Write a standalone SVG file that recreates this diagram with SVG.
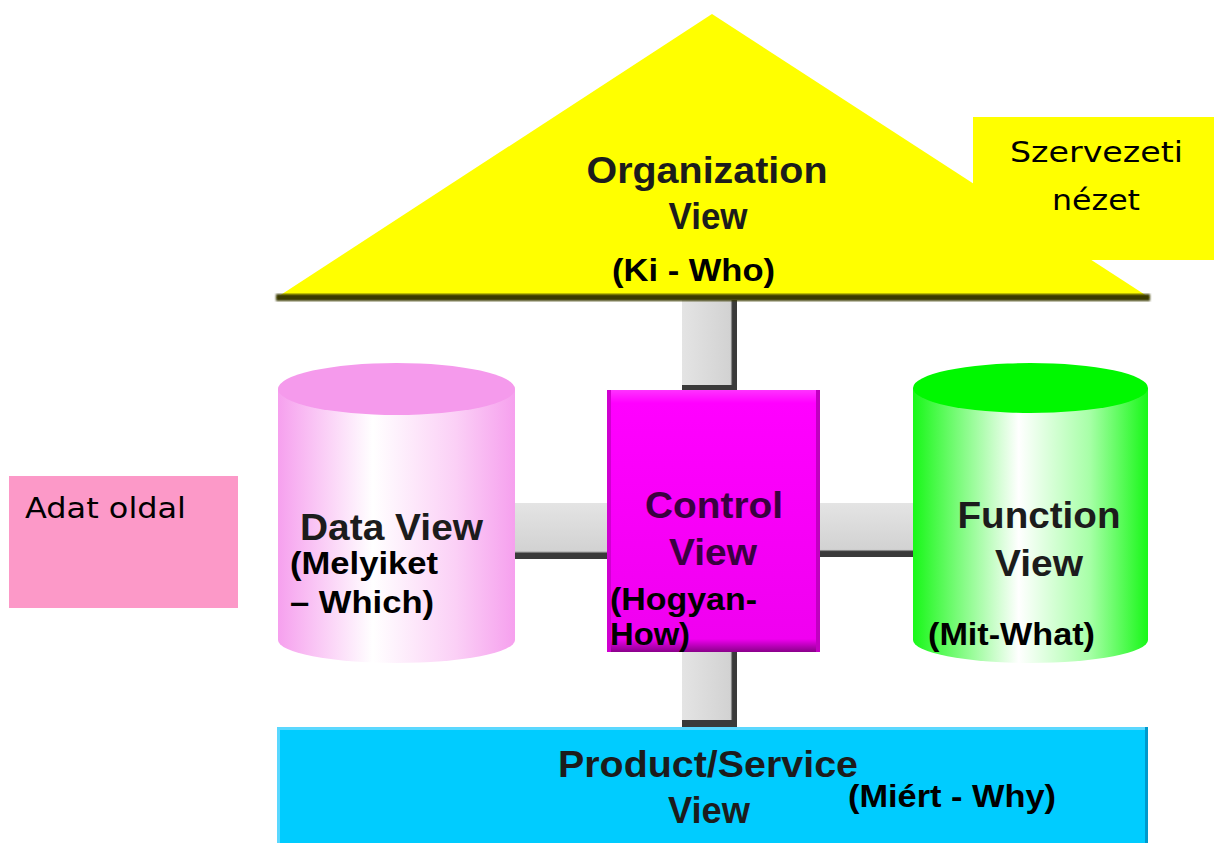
<svg xmlns="http://www.w3.org/2000/svg" width="1214" height="843" viewBox="0 0 1214 843">
  <defs>
    <linearGradient id="gPink" x1="0" y1="0" x2="1" y2="0">
      <stop offset="0" stop-color="#f6a0ee"/>
      <stop offset="0.4" stop-color="#ffffff"/>
      <stop offset="0.75" stop-color="#fbd0f6"/>
      <stop offset="1" stop-color="#f6a0ee"/>
    </linearGradient>
    <linearGradient id="gGreen" x1="0" y1="0" x2="1" y2="0">
      <stop offset="0" stop-color="#18f818"/>
      <stop offset="0.45" stop-color="#ffffff"/>
      <stop offset="0.75" stop-color="#a8ffa8"/>
      <stop offset="1" stop-color="#18f818"/>
    </linearGradient>
    <linearGradient id="gMag" x1="0" y1="0" x2="0" y2="1">
      <stop offset="0" stop-color="#ff33ff"/>
      <stop offset="0.05" stop-color="#ff00ff"/>
      <stop offset="0.95" stop-color="#f000f0"/>
      <stop offset="1" stop-color="#8a008a"/>
    </linearGradient>
    <linearGradient id="gGrayH" x1="0" y1="0" x2="0" y2="1">
      <stop offset="0" stop-color="#e4e4e4"/>
      <stop offset="0.86" stop-color="#d2d2d2"/>
      <stop offset="0.9" stop-color="#3a3a3a"/>
      <stop offset="1" stop-color="#3a3a3a"/>
    </linearGradient>
    <linearGradient id="gGrayV" x1="0" y1="0" x2="1" y2="0">
      <stop offset="0" stop-color="#e4e4e4"/>
      <stop offset="0.88" stop-color="#d2d2d2"/>
      <stop offset="0.92" stop-color="#3a3a3a"/>
      <stop offset="1" stop-color="#3a3a3a"/>
    </linearGradient>
    <filter id="soft" x="-5%" y="-5%" width="110%" height="110%">
      <feGaussianBlur stdDeviation="0.8"/>
    </filter>
  </defs>
  <style>
    .lbl { font-family: "Liberation Sans", Arial, sans-serif; font-weight: bold; fill: #1c1c1c; }
    .ann { font-family: "Liberation Sans", Arial, sans-serif; font-weight: bold; fill: #000000; }
    .note { font-family: "DejaVu Sans", "Liberation Sans", sans-serif; fill: #000000; }
  </style>
  <rect width="1214" height="843" fill="#ffffff"/>

  <g id="connectors">
    <rect x="682" y="300" width="55" height="90" fill="url(#gGrayV)"/>
    <rect x="682" y="385" width="55" height="5" fill="#3a3a3a"/>
    <rect x="515" y="503" width="92" height="56" fill="url(#gGrayH)"/>
    <rect x="820" y="503" width="93" height="54" fill="url(#gGrayH)"/>
    <rect x="682" y="652" width="55" height="75" fill="url(#gGrayV)"/>
    <rect x="682" y="720" width="55" height="7" fill="#3a3a3a"/>
  </g>

  <g id="organization-view">
    <polygon points="712,14 276,298 1150,298" fill="#ffff00"/>
    <rect x="276" y="294" width="874" height="7" fill="#3b3b00" filter="url(#soft)"/>
    <text class="lbl" x="707" y="183" font-size="37" text-anchor="middle" textLength="241" lengthAdjust="spacingAndGlyphs">Organization</text>
    <text class="lbl" x="708" y="229" font-size="37" text-anchor="middle" textLength="79" lengthAdjust="spacingAndGlyphs">View</text>
    <text class="ann" x="612" y="281" font-size="32" textLength="163" lengthAdjust="spacingAndGlyphs">(Ki - Who)</text>
  </g>

  <g id="szervezeti-nezet">
    <rect x="973" y="117" width="241" height="143" fill="#ffff00"/>
    <text class="note" x="1010" y="162" font-size="29" textLength="173" lengthAdjust="spacingAndGlyphs">Szervezeti</text>
    <text class="note" x="1052" y="210" font-size="29" textLength="88" lengthAdjust="spacingAndGlyphs">nézet</text>
  </g>

  <g id="adat-oldal">
    <rect x="9" y="476" width="229" height="132" fill="#fc99c8"/>
    <text class="note" x="25" y="518" font-size="29" textLength="161" lengthAdjust="spacingAndGlyphs">Adat oldal</text>
  </g>

  <g id="data-view">
    <path d="M278,389 L278,640 A118.5,23 0 0 0 515,640 L515,389 Z" fill="url(#gPink)"/>
    <ellipse cx="396.5" cy="389" rx="118.5" ry="26" fill="#f59aec"/>
    <text class="lbl" x="300" y="540" font-size="37" textLength="183" lengthAdjust="spacingAndGlyphs">Data View</text>
    <text class="ann" x="290" y="574" font-size="32" textLength="148" lengthAdjust="spacingAndGlyphs">(Melyiket</text>
    <text class="ann" x="290" y="613" font-size="32" textLength="144" lengthAdjust="spacingAndGlyphs">– Which)</text>
  </g>

  <g id="control-view">
    <rect x="607" y="390" width="213" height="262" fill="url(#gMag)"/>
    <rect x="607" y="390" width="4" height="262" fill="#d000d0"/>
    <rect x="816" y="390" width="4" height="262" fill="#c000c0"/>
    <text class="lbl" x="714" y="518" font-size="37" text-anchor="middle" style="fill:#3a0040" textLength="138" lengthAdjust="spacingAndGlyphs">Control</text>
    <text class="lbl" x="713" y="565" font-size="37" text-anchor="middle" style="fill:#3a0040" textLength="88" lengthAdjust="spacingAndGlyphs">View</text>
    <text class="ann" x="610" y="610" font-size="32" textLength="147" lengthAdjust="spacingAndGlyphs">(Hogyan-</text>
    <text class="ann" x="610" y="645" font-size="32" textLength="80" lengthAdjust="spacingAndGlyphs">How)</text>
  </g>

  <g id="function-view">
    <path d="M913,388 L913,640 A117.5,23 0 0 0 1148,640 L1148,388 Z" fill="url(#gGreen)"/>
    <ellipse cx="1030.5" cy="388" rx="117.5" ry="25" fill="#00f800"/>
    <text class="lbl" x="1039" y="528" font-size="37" text-anchor="middle" textLength="163" lengthAdjust="spacingAndGlyphs">Function</text>
    <text class="lbl" x="1039" y="576" font-size="37" text-anchor="middle" textLength="88" lengthAdjust="spacingAndGlyphs">View</text>
    <text class="ann" x="928" y="645" font-size="32" textLength="167" lengthAdjust="spacingAndGlyphs">(Mit-What)</text>
  </g>

  <g id="product-service-view">
    <rect x="277" y="727" width="871" height="116" fill="#00ccff"/>
    <rect x="277" y="727" width="871" height="3" fill="#5ad8ff"/>
    <rect x="277" y="727" width="3" height="116" fill="#5ad8ff"/>
    <rect x="1145" y="727" width="3" height="116" fill="#0099cc"/>
    <text class="lbl" x="708" y="777" font-size="37" text-anchor="middle" textLength="300" lengthAdjust="spacingAndGlyphs">Product/Service</text>
    <text class="lbl" x="709" y="823" font-size="37" text-anchor="middle" textLength="82" lengthAdjust="spacingAndGlyphs">View</text>
    <text class="ann" x="848" y="807" font-size="32" textLength="208" lengthAdjust="spacingAndGlyphs">(Miért - Why)</text>
  </g>
</svg>
